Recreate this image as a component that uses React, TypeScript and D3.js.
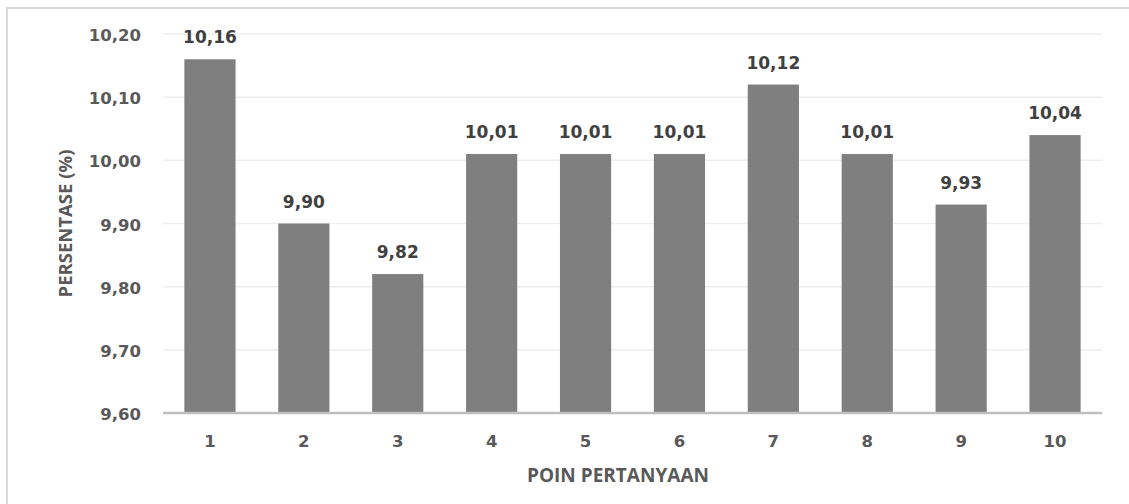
import React from "react";
import * as d3 from "d3";

// Question numbers and the percentage recorded for each
const categories: string[] = ["1", "2", "3", "4", "5", "6", "7", "8", "9", "10"];
const values: number[] = [10.16, 9.9, 9.82, 10.01, 10.01, 10.01, 10.12, 10.01, 9.93, 10.04];
const yTicks: number[] = [9.6, 9.7, 9.8, 9.9, 10.0, 10.1, 10.2];

const xTitle = "POIN PERTANYAAN";
const yTitle = "PERSENTASE (%)";

const W = 1129;
const H = 504;
const plot = { left: 163, right: 1102, top: 34, bottom: 413 };

const fmt = (v: number) => v.toFixed(2).replace(".", ",");

const numFont = "'DejaVu Sans', sans-serif";
const titleFont = "'Open Sans', sans-serif";

export default function App() {
  const x = d3
    .scaleBand<string>()
    .domain(categories)
    .range([plot.left, plot.right])
    .paddingInner(0.455)
    .paddingOuter(0.2275);

  const y = d3.scaleLinear().domain([9.6, 10.2]).range([plot.bottom, plot.top]);

  return (
    <svg
      width={W}
      height={H}
      style={{ position: "absolute", left: 0, top: 0, display: "block", background: "#fff" }}
    >
      {/* chart frame */}
      <rect x={7} y={8} width={1200} height={600} fill="#fff" stroke="#d9d9d9" strokeWidth={2} />

      {/* horizontal gridlines */}
      {yTicks.slice(1).map((t) => (
        <line
          key={"g" + t}
          x1={plot.left}
          x2={plot.right}
          y1={y(t)}
          y2={y(t)}
          stroke="#eeeeee"
          strokeWidth={1.5}
        />
      ))}

      {/* y tick labels */}
      {yTicks.map((t) => (
        <text
          key={"yt" + t}
          x={141}
          y={y(t) + 7}
          textAnchor="end"
          fontFamily={numFont}
          fontWeight="bold"
          fontSize={16.5}
          fill="#595959"
        >
          {fmt(t)}
        </text>
      ))}

      {/* bars */}
      {values.map((v, i) => (
        <rect
          key={"b" + i}
          x={x(categories[i])}
          y={y(v)}
          width={x.bandwidth()}
          height={y(9.6) - y(v)}
          fill="#7f7f7f"
        />
      ))}

      {/* value labels */}
      {values.map((v, i) => (
        <text
          key={"l" + i}
          x={(x(categories[i]) as number) + x.bandwidth() / 2}
          y={y(v) - 16}
          textAnchor="middle"
          fontFamily={numFont}
          fontWeight="bold"
          fontSize={17}
          fill="#404040"
        >
          {fmt(v)}
        </text>
      ))}

      {/* x axis line */}
      <line
        x1={plot.left}
        x2={plot.right}
        y1={plot.bottom}
        y2={plot.bottom}
        stroke="#bfbfbf"
        strokeWidth={2.5}
      />

      {/* x tick labels */}
      {categories.map((c) => (
        <text
          key={"xt" + c}
          x={(x(c) as number) + x.bandwidth() / 2}
          y={447}
          textAnchor="middle"
          fontFamily={numFont}
          fontWeight="bold"
          fontSize={16.5}
          fill="#595959"
        >
          {c}
        </text>
      ))}

      {/* axis titles */}
      <text
        x={618}
        y={482}
        textAnchor="middle"
        fontFamily={titleFont}
        fontWeight={700}
        fontSize={19}
        fill="#595959"
      >
        {xTitle}
      </text>
      <text
        transform={`translate(72, ${(plot.top + plot.bottom) / 2}) rotate(-90)`}
        textAnchor="middle"
        fontFamily={titleFont}
        fontWeight={700}
        fontSize={18.5}
        fill="#595959"
      >
        {yTitle}
      </text>
    </svg>
  );
}
